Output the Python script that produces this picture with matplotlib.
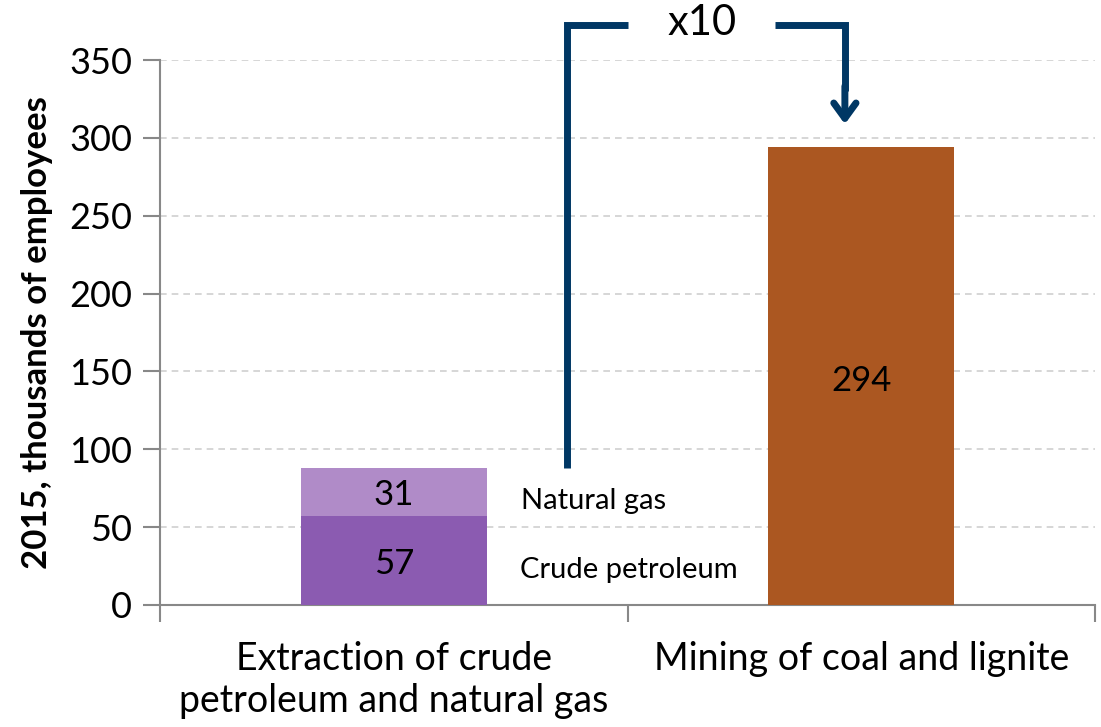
import matplotlib
matplotlib.use("Agg")
import matplotlib.pyplot as plt

plt.rcParams['font.family'] = ['Lato', 'DejaVu Sans']

categories = ["Extraction of crude\npetroleum and natural gas", "Mining of coal and lignite"]
crude_petroleum = [57, 0]
natural_gas = [31, 0]
coal = [0, 294]
yticks = [0, 50, 100, 150, 200, 250, 300, 350]

c_crude = "#8B5BB1"
c_gas = "#B08BC8"
c_coal = "#AB5721"
navy = "#003764"

fig = plt.figure(figsize=(11.01, 7.27), dpi=100)
ax = fig.add_axes([160/1101, 1-605/727, 935/1101, 545/727])

w = 0.398
ax.bar([0], [crude_petroleum[0]], width=w, color=c_crude, zorder=3)
ax.bar([0], [natural_gas[0]], bottom=[crude_petroleum[0]], width=w, color=c_gas, zorder=3)
ax.bar([1], [coal[1]], width=w, color=c_coal, zorder=3)

ax.text(0, crude_petroleum[0]/2 - 2, str(crude_petroleum[0]), ha='center', va='center', fontsize=25, zorder=4)
ax.text(0, crude_petroleum[0] + natural_gas[0]/2 - 2, str(natural_gas[0]), ha='center', va='center', fontsize=25, zorder=4)
ax.text(1, 144, str(coal[1]), ha='center', va='center', fontsize=25, zorder=4)

ax.text(0.269, crude_petroleum[0]/2 - 6, "Crude petroleum", ha='left', va='center', fontsize=21)
ax.text(0.273, crude_petroleum[0] + natural_gas[0]/2 - 6, "Natural gas", ha='left', va='center', fontsize=21)

ax.set_xlim(-0.5, 1.5)
ax.set_ylim(0, 350)
ax.set_yticks(yticks)
ax.set_yticklabels([str(v) for v in yticks], fontsize=26)
ax.set_xticks([-0.5, 0.5, 1.5])
ax.set_xticklabels([])
ax.set_xticks([0, 1], minor=True)
ax.set_xticklabels(categories, minor=True, fontsize=27, linespacing=1.22)
ax.tick_params(axis='x', which='minor', length=0, pad=26)
ax.tick_params(axis='x', which='major', length=12, color='#888888', width=1.5, direction='out')
ax.tick_params(axis='y', length=12, color='#888888', width=1.5, direction='out', pad=8)

ax.yaxis.grid(True, linestyle=(0, (4, 3)), color='#D0D0D0', linewidth=1.2, zorder=0)
ax.set_axisbelow(True)
for s in ['top', 'right']:
    ax.spines[s].set_visible(False)
for s in ['left', 'bottom']:
    ax.spines[s].set_color('#888888')
    ax.spines[s].set_linewidth(1.5)

ax.set_ylabel("2015, thousands of employees", fontsize=25, fontweight='bold', labelpad=12)

# x10 annotation
total0 = crude_petroleum[0] + natural_gas[0]
ytop = 372.5
ax.plot([0.37, 0.37, 0.501], [total0, ytop, ytop], color=navy, lw=5, clip_on=False,
        solid_joinstyle='miter', solid_capstyle='butt', zorder=5)
ax.plot([0.8155, 0.965, 0.965], [ytop, ytop, 330], color=navy, lw=5, clip_on=False,
        solid_joinstyle='miter', solid_capstyle='butt', zorder=5)
ax.annotate("", xy=(0.965, 307), xytext=(0.965, 335),
            arrowprops=dict(arrowstyle='->,head_length=1.1,head_width=0.8', color=navy, lw=5),
            annotation_clip=False)
ax.text(0.659, ytop + 1, "x10", ha='center', va='center', fontsize=30)

fig.savefig("out.png", dpi=100)
